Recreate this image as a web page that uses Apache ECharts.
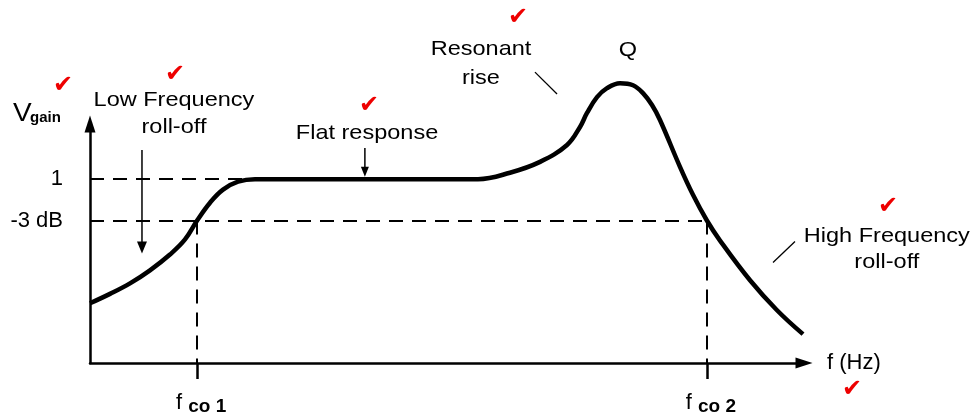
<!DOCTYPE html>
<html><head><meta charset="utf-8">
<script src="https://cdn.jsdelivr.net/npm/echarts@6/dist/echarts.min.js"></script>
<style>html,body{margin:0;padding:0;background:#fff}#c{width:977px;height:416px}</style>
</head><body><div id="c"></div>
<script>
// Frequency-response curve (arbitrary units: f axis 0..100, gain where 1 = passband)
const freq = [0, 2.80, 5.60, 8.40, 11.20, 13.31, 15.0, 16.81, 18.63, 20.73, 23.11, 29.41, 40.62, 50.70, 54.34, 58.82, 63.03, 66.81, 68.63, 69.61, 71.01, 72.41, 74.23, 76.05, 77.45, 78.71, 79.83, 82.63, 84.45, 86.4, 88.24, 92.44, 96.22, 99.86];
const gain = [0.325, 0.376, 0.433, 0.504, 0.590, 0.672, 0.775, 0.872, 0.943, 0.986, 1.0, 1.0, 1.0, 1.0, 1.0, 1.035, 1.094, 1.186, 1.284, 1.360, 1.446, 1.495, 1.522, 1.511, 1.468, 1.403, 1.322, 1.067, 0.915, 0.775, 0.666, 0.450, 0.287, 0.157];
// Axis ticks
const gainTicks = [0.775, 1];
const gainTickLabels = ['-3 dB', '1'];
const freqTicks = [15, 86.4];
const freqTickLabels = ['co 1', 'co 2'];
// Reference levels
const unityGain = 1;
const cutoffGain = 0.775;
const flatStart = 22.4;

// Annotations (anchors in data units)
const notes = [
  {text: 'Low Frequency\nroll-off', at: [11.76, 1.357], lh: 27},
  {text: 'Flat response', at: [38.8, 1.251], lh: 27},
  {text: 'Resonant\nrise', at: [54.76, 1.628], lh: 29},
  {text: 'Q', at: [75.35, 1.701], lh: 27},
  {text: 'High Frequency\nroll-off', at: [111.6, 0.618], lh: 26}
];
const arrows = [
  {from: [7.28, 1.159], to: [7.28, 0.596], w: 10, h: 12},
  {from: [38.5, 1.17], to: [38.5, 1.013], w: 8, h: 10}
];
const leaders = [
  {from: [62.32, 1.582], to: [65.41, 1.463]},
  {from: [98.74, 0.661], to: [95.66, 0.547]}
];
const checks = [[-3.78, 1.506], [11.90, 1.566], [39.08, 1.397], [59.94, 1.880], [111.76, 0.850], [106.72, -0.146]];

const FONT = '"Liberation Sans", Arial, sans-serif';
const dash = {type: [14, 9], width: 2, color: '#000'};
function nearest(arr, v) { let b = 0; arr.forEach((a, i) => { if (Math.abs(a - v) < Math.abs(arr[b] - v)) b = i; }); return b; }

const chart = echarts.init(document.getElementById('c'));
chart.setOption({
  animation: false,
  backgroundColor: '#fff',
  grid: {left: 90, top: 124, width: 714, height: 240},
  xAxis: {
    type: 'value', min: 0, max: 100,
    name: 'f (Hz)', nameLocation: 'end', nameGap: 23,
    nameTextStyle: {fontFamily: FONT, fontSize: 22, color: '#000'},
    axisLine: {show: true, symbol: ['none', 'triangle'], symbolSize: [11, 17], lineStyle: {color: '#000', width: 2.5}},
    axisTick: {show: true, customValues: freqTicks, length: 16, lineStyle: {color: '#000', width: 2.5}},
    axisLabel: {
      customValues: freqTicks, margin: 26,
      formatter: v => '{f|f }{s|' + freqTickLabels[nearest(freqTicks, v)] + '}',
      rich: {
        f: {fontFamily: FONT, fontSize: 22, color: '#000', padding: [0, 0, 0, 8]},
        s: {fontFamily: FONT, fontSize: 19, fontWeight: 'bold', color: '#000', padding: [8, 0, 0, 0]}
      }
    },
    splitLine: {show: false}
  },
  yAxis: {
    type: 'value', min: 0, max: 1.3,
    axisLine: {show: true, symbol: ['none', 'triangle'], symbolSize: [11, 17], lineStyle: {color: '#000', width: 2.5}},
    axisTick: {show: false},
    axisLabel: {
      customValues: gainTicks, margin: 27,
      formatter: v => gainTickLabels[nearest(gainTicks, v)],
      fontFamily: FONT, fontSize: 22, color: '#000'
    },
    splitLine: {show: false}
  },
  series: [{
    type: 'line',
    data: freq.map((f, i) => [f, gain[i]]),
    smooth: 0.4,
    symbol: 'none',
    clip: false,
    lineStyle: {color: '#000', width: 4.5},
    z: 5,
    markLine: {
      silent: true, symbol: 'none', label: {show: false}, lineStyle: dash,
      data: [
        [{coord: [0, unityGain]}, {coord: [flatStart, unityGain]}],
        [{coord: [0, cutoffGain]}, {coord: [freqTicks[1], cutoffGain]}],
        [{coord: [freqTicks[0], cutoffGain]}, {coord: [freqTicks[0], 0]}],
        [{coord: [freqTicks[1], cutoffGain]}, {coord: [freqTicks[1], 0]}]
      ]
    }
  }]
});

function P(u, v) { return chart.convertToPixel({xAxisIndex: 0, yAxisIndex: 0}, [u, v]); }
const g = [];
notes.forEach(n => {
  const p = P(n.at[0], n.at[1]);
  g.push({type: 'text', x: p[0], y: p[1], scaleX: 1.12,
    style: {text: n.text, fontFamily: FONT, fontSize: 21, fill: '#000', align: 'center', verticalAlign: 'middle', lineHeight: n.lh}});
});
arrows.forEach(a => {
  const p1 = P(a.from[0], a.from[1]), p2 = P(a.to[0], a.to[1]);
  g.push({type: 'line', shape: {x1: p1[0], y1: p1[1], x2: p2[0], y2: p2[1] - a.h + 1}, style: {stroke: '#000', lineWidth: 1.5}});
  g.push({type: 'polygon', shape: {points: [[p2[0], p2[1]], [p2[0] - a.w / 2, p2[1] - a.h], [p2[0] + a.w / 2, p2[1] - a.h]]}, style: {fill: '#000'}});
});
leaders.forEach(l => {
  const p1 = P(l.from[0], l.from[1]), p2 = P(l.to[0], l.to[1]);
  g.push({type: 'line', shape: {x1: p1[0], y1: p1[1], x2: p2[0], y2: p2[1]}, style: {stroke: '#000', lineWidth: 1.3}});
});
checks.forEach(c => {
  const p = P(c[0], c[1]);
  g.push({type: 'text', x: p[0], y: p[1],
    style: {text: '\u2714', fontFamily: '"DejaVu Sans", sans-serif', fontSize: 24, fill: '#ee0000', align: 'center', verticalAlign: 'middle'}});
});
// V_gain axis title
const pv = P(-10.78, 1.356), pg = P(-8.40, 1.333);
g.push({type: 'text', x: pv[0], y: pv[1], scaleX: 1.12, style: {text: 'V', fontFamily: FONT, fontSize: 25, fill: '#000', align: 'left', verticalAlign: 'middle'}});
g.push({type: 'text', x: pg[0], y: pg[1], style: {text: 'gain', fontFamily: FONT, fontSize: 15, fontWeight: 'bold', fill: '#000', align: 'left', verticalAlign: 'middle'}});
chart.setOption({graphic: g});
</script>
</body></html>
